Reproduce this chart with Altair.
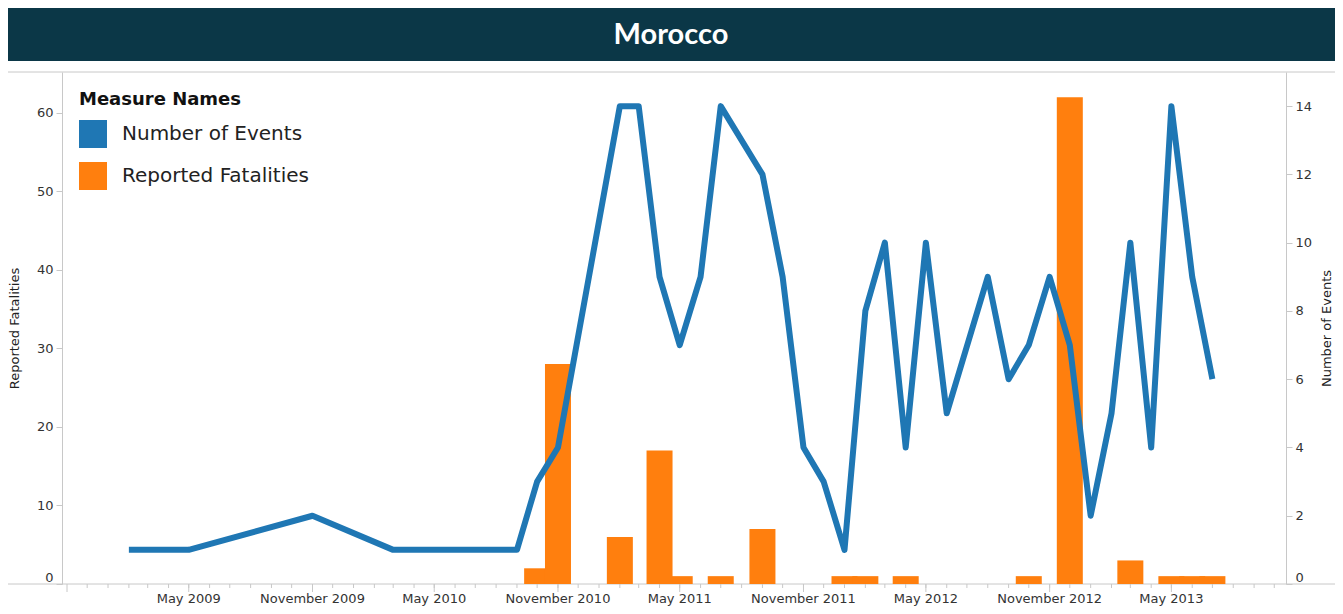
import altair as alt
import pandas as pd

# ---------------- data ----------------
event_months = [
    "2009-02", "2009-05", "2009-11", "2010-03", "2010-09", "2010-10", "2010-11",
    "2011-02", "2011-03", "2011-04", "2011-05", "2011-06", "2011-07", "2011-09",
    "2011-10", "2011-11", "2011-12", "2012-01", "2012-02", "2012-03", "2012-04",
    "2012-05", "2012-06", "2012-08", "2012-09", "2012-10", "2012-11", "2012-12",
    "2013-01", "2013-02", "2013-03", "2013-04", "2013-05", "2013-06", "2013-07",
]
event_counts = [
    1, 1, 2, 1, 1, 3, 4,
    14, 14, 9, 7, 9, 14, 12,
    9, 4, 3, 1, 8, 10, 4,
    10, 5, 9, 6, 7, 9, 7,
    2, 5, 10, 4, 14, 9, 6,
]

fatality_months = [
    "2010-10", "2010-11", "2011-02", "2011-04", "2011-05", "2011-07", "2011-09",
    "2012-01", "2012-02", "2012-04", "2012-10", "2012-12", "2013-03",
    "2013-05", "2013-06", "2013-07",
]
fatality_counts = [
    2, 28, 6, 17, 1, 1, 7,
    1, 1, 1, 1, 62, 3,
    1, 1, 1,
]

measure_names = ["Number of Events", "Reported Fatalities"]
measure_colors = ["#1f77b4", "#ff7f0e"]

# axis ticks
major_tick_months = ["2008-11", "2009-05", "2009-11", "2010-05", "2010-11",
                     "2011-05", "2011-11", "2012-05", "2012-11", "2013-05"]
labelled_months = ["2009-05", "2009-11", "2010-05", "2010-11",
                   "2011-05", "2011-11", "2012-05", "2012-11", "2013-05"]
left_ticks = [0, 10, 20, 30, 40, 50, 60]
right_ticks = [0, 2, 4, 6, 8, 10, 12, 14]
chart_title = "Morocco"

# ---------------- layout ----------------
W, H = 1224, 512
PAD = {"left": 54, "top": 64, "right": 49, "bottom": 22}
FONT = "DejaVu Sans"
GRAY = "#c8c8c8"
TXT = "#333333"


def to_ts(m):
    return m + "-01T00:00:00"


events = pd.DataFrame({
    "date": [to_ts(m) for m in event_months],
    "value": event_counts,
    "measure": measure_names[0],
})
fat = pd.DataFrame({
    "date": [to_ts(m) for m in fatality_months],
    "value": fatality_counts,
    "measure": measure_names[1],
}).sort_values("value", kind="stable").reset_index(drop=True)

minor_months = pd.date_range("2008-12-01", "2013-10-01", freq="MS").strftime("%Y-%m-%dT00:00:00").tolist()
minor_df = pd.DataFrame({"date": minor_months})
major_df = pd.DataFrame({"date": [to_ts(m) for m in major_tick_months]})
label_df = pd.DataFrame({"date": [to_ts(m) for m in labelled_months]})

xscale = alt.Scale(domain=[alt.DateTime(year=2008, month=11, date=1),
                           alt.DateTime(year=2013, month=10, date=11)])
color_scale = alt.Scale(domain=measure_names, range=measure_colors)

one = pd.DataFrame({"k": [0]})

title_rect = alt.Chart(one).mark_rect(color="#0b3747").encode(
    x=alt.value(-54), x2=alt.value(1273), y=alt.value(-64), y2=alt.value(-11)
)
title_text = alt.Chart(one).mark_text(
    text=chart_title, font="Lato", fontSize=29, fontWeight="bold", color="white",
    align="center", baseline="middle"
).encode(x=alt.value(609), y=alt.value(-37))

frame_top = alt.Chart(one).mark_rule(color=GRAY, strokeWidth=1).encode(
    x=alt.value(-54), x2=alt.value(1273), y=alt.value(0)
)
frame_bottom = alt.Chart(one).mark_rule(color=GRAY, strokeWidth=1).encode(
    x=alt.value(-54), x2=alt.value(1273), y=alt.value(H)
)

minor = alt.Chart(minor_df).mark_rule(color=GRAY, strokeWidth=1).encode(
    x=alt.X("date:T", scale=xscale, axis=None),
    y=alt.value(H), y2=alt.value(H + 4),
)
major = alt.Chart(major_df).mark_rule(color=GRAY, strokeWidth=1).encode(
    x=alt.X("date:T", scale=xscale, axis=None),
    y=alt.value(H), y2=alt.value(H + 8),
)
xlabels = alt.Chart(label_df).mark_text(
    font=FONT, fontSize=13, color=TXT, align="center", baseline="top"
).encode(
    x=alt.X("date:T", scale=xscale, axis=None),
    y=alt.value(H + 9),
    text=alt.Text("date:T", format="%B %Y"),
)

bars = alt.Chart(fat).mark_bar(size=26).encode(
    x=alt.X("date:T", scale=xscale, axis=None),
    y=alt.Y("value:Q",
            scale=alt.Scale(domain=[0, 65.2], nice=False, zero=True),
            axis=alt.Axis(
                values=left_ticks, orient="left", title="Reported Fatalities",
                grid=False, domainColor=GRAY, tickColor=GRAY, tickSize=6,
                labelPadding=3, labelFlush=True, labelFont=FONT, labelFontSize=13,
                labelColor=TXT, titleFont=FONT, titleFontSize=13,
                titleFontWeight="normal", titleColor="#222",
                titleX=-48, titleY=H / 2, titleAngle=270,
                titleAlign="center", titleBaseline="middle",
            )),
    color=alt.Color("measure:N", scale=color_scale, legend=alt.Legend(
        orient="none", legendX=17, legendY=19, title="Measure Names",
        titleFont=FONT, titleFontSize=18, titleFontWeight="bold", titleColor="#111",
        titlePadding=11, titleLimit=400,
        labelFont=FONT, labelFontSize=20, labelColor="#222", labelLimit=400,
        labelOffset=15, symbolType="square", symbolSize=784, symbolStrokeWidth=0,
        rowPadding=14, padding=0,
    )),
)

line = alt.Chart(events).mark_line(strokeWidth=6, strokeJoin="round").encode(
    x=alt.X("date:T", scale=xscale, axis=None),
    y=alt.Y("value:Q",
            scale=alt.Scale(domain=[0, 15], nice=False, zero=True),
            axis=alt.Axis(
                values=right_ticks, orient="right", title="Number of Events",
                grid=False, domainColor=GRAY, tickColor=GRAY, tickSize=6,
                labelPadding=3, labelFlush=True, labelFont=FONT, labelFontSize=13,
                labelColor=TXT, titleFont=FONT, titleFontSize=13,
                titleFontWeight="normal", titleColor="#222",
                titleX=40, titleY=H / 2, titleAngle=270,
                titleAlign="center", titleBaseline="middle",
            )),
    color=alt.Color("measure:N", scale=color_scale, legend=None),
)

chart = alt.layer(
    title_rect, title_text, frame_top, frame_bottom, minor, major, xlabels, bars, line
).resolve_scale(y="independent").properties(
    width=W, height=H, padding=PAD,
    autosize=alt.AutoSizeParams(type="none"),
    background="white",
).configure_view(stroke=None)

chart.save("out.html", embed_options={"renderer": "svg", "actions": False})
